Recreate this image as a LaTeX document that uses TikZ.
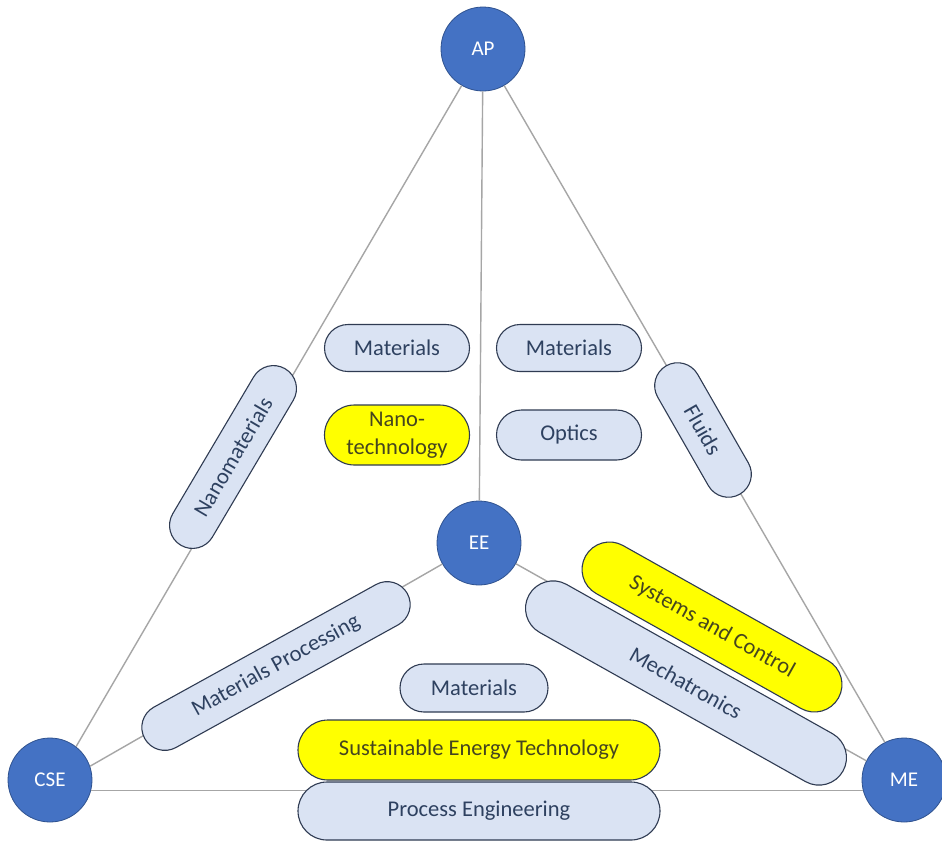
\documentclass[tikz,border=0pt]{standalone}
\usepackage{fontspec}
\setmainfont{Carlito}
\usetikzlibrary{shapes.misc}
\definecolor{hubfill}{HTML}{4472C4}
\definecolor{hubdraw}{HTML}{2F528F}
\definecolor{pillfill}{HTML}{DAE3F3}
\definecolor{pilldraw}{HTML}{2F3B52}
\definecolor{pilltext}{HTML}{2E4160}
\definecolor{hilite}{HTML}{FFFF00}
\definecolor{hilitetext}{HTML}{45451F}
\definecolor{linkgray}{HTML}{A6A6A6}
\begin{document}
\begin{tikzpicture}[x=1pt,y=-1pt,
  hub/.style={circle, minimum size=84pt, inner sep=0pt, fill=hubfill, draw=hubdraw, line width=0.8pt,
    text=white, font=\fontsize{21}{24}\selectfont},
  link/.style={draw=linkgray, line width=1.4pt},
  pill/.style={rounded rectangle, inner sep=0pt, fill=pillfill, draw=pilldraw, line width=1.1pt,
    text=pilltext, align=center, font=\fontsize{22.5}{28}\selectfont},
  hpill/.style={pill, fill=hilite, text=hilitetext}
]
\useasboundingbox (0,0) rectangle (942,841);
\fill[white] (0,0) rectangle (942,841);

% hubs
\node[hub] (AP) at (483,49) {AP};
\node[hub] (EE) at (479,543) {EE};
\node[hub] (CSE) at (50,780) {CSE};
\node[hub] (ME) at (904,780) {ME};

% connectors
\draw[link] (AP) -- (EE);
\draw[link] (AP) -- (CSE.52);
\draw[link] (AP) -- (ME.117);
\draw[link] (EE) -- (CSE.19);
\draw[link] (EE) -- (ME.153);
\draw[link] (CSE.-14) -- (ME.194);

% pills
\node[pill, minimum width=145pt, minimum height=47pt] (matL) at (397,348) {Materials};
\node[pill, minimum width=145pt, minimum height=47pt] (matR) at (569,348) {Materials};
\node[hpill, minimum width=145pt, minimum height=60pt] (nano) at (397,435) {Nano-\\technology};
\node[pill, minimum width=145pt, minimum height=50pt] (optics) at (569,435) {Optics};
\node[pill, rotate=59.4, minimum width=205pt, minimum height=46pt] (nanomat) at (233,457) {Nanomaterials};
\node[pill, rotate=-60.2, minimum width=148pt, minimum height=46pt] (fluids) at (703,430) {Fluids};
\node[pill, rotate=28.9, minimum width=300pt, minimum height=46pt] (mproc) at (276,666) {Materials Processing};
\node[pill, rotate=-29.3, minimum width=360pt, minimum height=55pt] (mech) at (686,683) {Mechatronics};
\node[hpill, rotate=-29.3, minimum width=290pt, minimum height=55pt] (sc) at (712,627) {Systems and Control};
\node[pill, minimum width=148pt, minimum height=48pt] (matB) at (474,688) {Materials};
\node[pill, minimum width=362pt, minimum height=58pt] (pe) at (479,811) {Process Engineering};
\node[hpill, minimum width=362pt, minimum height=60pt] (set) at (479,750) {Sustainable Energy Technology};
\end{tikzpicture}
\end{document}
